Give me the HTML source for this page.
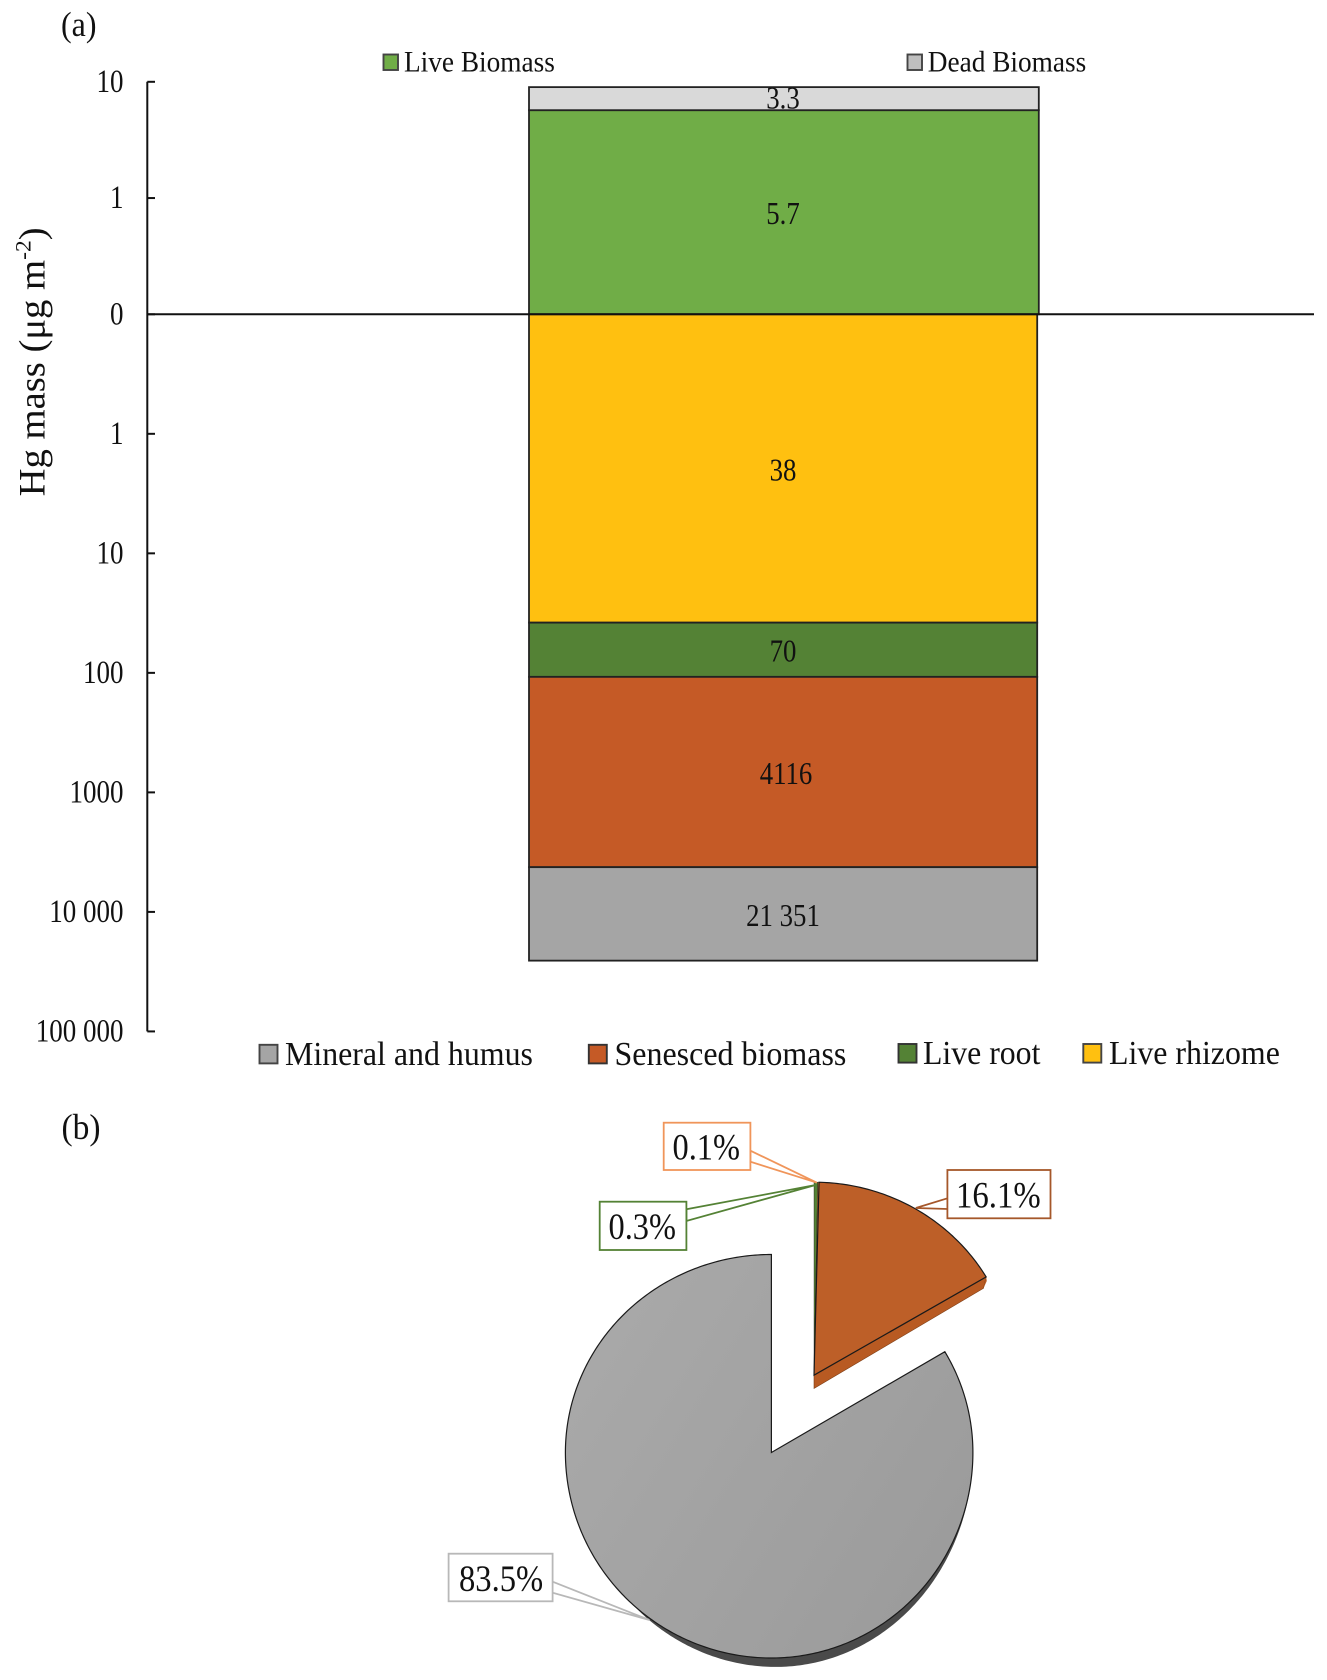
<!DOCTYPE html>
<html lang="en">
<head>
<meta charset="utf-8">
<title>Hg mass chart</title>
<style>
html,body{margin:0;padding:0;background:#fff;}
svg{display:block;filter:blur(0.35px);}
text{font-family:"Liberation Serif","Times New Roman",serif;fill:#111;}
</style>
</head>
<body>
<svg id="chart" xmlns="http://www.w3.org/2000/svg" width="1327" height="1680" viewBox="0 0 1327 1680">
  <defs>
    <linearGradient id="grayGrad" x1="0" y1="0.2" x2="1" y2="0.8">
      <stop offset="0" stop-color="#a9a9a9"/>
      <stop offset="1" stop-color="#9b9b9b"/>
    </linearGradient>
  </defs>
  <rect x="0" y="0" width="1327" height="1680" fill="#ffffff"/>

  <text transform="translate(61,36) scale(1,1.08)" font-size="32">(a)</text>
  <text transform="translate(61.5,1139) scale(1,1.08)" font-size="33.5">(b)</text>

  <text transform="translate(44.6,496.4) rotate(-90) scale(1.045,1)" font-size="37">Hg mass (μg m<tspan font-size="22.5" dy="-14">-2</tspan><tspan dy="14">)</tspan></text>

  <g id="bars"></g>
  <g id="axis"></g>

  <g>
    <g>
      <rect x="383.5" y="54.5" width="14.5" height="15.5" fill="#70ad47" stroke="#444" stroke-width="1.9"/>
      <text transform="translate(404,71.4) scale(1,1.09)" font-size="27.3">Live Biomass</text>
    </g>
    <g>
      <rect x="907.5" y="54.5" width="14.5" height="15.5" fill="#bfbfbf" stroke="#444" stroke-width="1.9"/>
      <text transform="translate(927.8,71.4) scale(1,1.09)" font-size="27.3">Dead Biomass</text>
    </g>
  </g>

  <g>
    <g>
      <rect x="259.5" y="1044.8" width="18" height="18.6" fill="#a5a5a5" stroke="#444" stroke-width="1.9"/>
      <text transform="translate(285,1065) scale(1,1.05)" font-size="31.9">Mineral and humus</text>
    </g>
    <g>
      <rect x="588.8" y="1044.8" width="18" height="18.6" fill="#c55a26" stroke="#333" stroke-width="1.9"/>
      <text transform="translate(614.5,1065) scale(1,1.05)" font-size="32">Senesced biomass</text>
    </g>
    <g>
      <rect x="898.5" y="1044" width="18" height="18.6" fill="#548235" stroke="#333" stroke-width="1.9"/>
      <text transform="translate(923,1064) scale(1,1.05)" font-size="31.8">Live root</text>
    </g>
    <g>
      <rect x="1083.3" y="1044" width="18" height="18.6" fill="#ffc010" stroke="#444" stroke-width="1.9"/>
      <text transform="translate(1109,1064) scale(1,1.05)" font-size="31.9">Live rhizome</text>
    </g>
  </g>

  <g id="pie"></g>

  <g id="pie-labels">
    <g>
      <polygon points="750.4,1150.7 816.9,1182.7 750.4,1161.7" fill="#fff" stroke="#f0955a" stroke-width="1.8"/>
      <rect x="663.7" y="1122.7" width="86.7" height="47.3" fill="#fff" stroke="#f0955a" stroke-width="1.8"/>
      <text id="pl-1" transform="translate(672.5,1159.5) scale(1,1.14)" font-size="32.4"></text>
    </g>
    <g>
      <polygon points="686.4,1209.3 815.6,1185 686.4,1221" fill="#fff" stroke="#548235" stroke-width="1.8"/>
      <rect x="599.7" y="1201.7" width="86.7" height="48.3" fill="#fff" stroke="#548235" stroke-width="1.8"/>
      <text id="pl-0" transform="translate(608.5,1239) scale(1,1.14)" font-size="32.4"></text>
    </g>
    <g>
      <polygon points="947.4,1198.3 915.8,1208 947.4,1209" fill="#fff" stroke="#a5572a" stroke-width="1.8"/>
      <rect x="947.4" y="1170" width="103.1" height="48.3" fill="#fff" stroke="#a5572a" stroke-width="1.8"/>
      <text id="pl-2" transform="translate(956,1207.5) scale(1,1.14)" font-size="32.8"></text>
    </g>
    <g>
      <polygon points="552.6,1581.7 649.4,1620 552.6,1592.7" fill="#fff" stroke="#b8b8b8" stroke-width="1.8"/>
      <rect x="448.6" y="1553.7" width="104" height="47.6" fill="#fff" stroke="#b8b8b8" stroke-width="1.8"/>
      <text id="pl-3" transform="translate(459,1591) scale(1,1.14)" font-size="32.6"></text>
    </g>
  </g>
</svg>

<script>
// ---- stacked bar data ----
const aboveCategories = ["Live biomass", "Dead biomass"];
const aboveValues = [5.7, 3.3];
const aboveLabels = ["5.7", "3.3"];
const belowCategories = ["Live rhizome", "Live root", "Senesced biomass", "Mineral and humus"];
const belowValues = [38, 70, 4116, 21351];
const belowLabels = ["38", "70", "4116", "21 351"];
const upperTickValues = [0, 1, 10];
const upperTickLabels = ["0", "1", "10"];
const lowerTickValues = [1, 10, 100, 1000, 10000, 100000];
const lowerTickLabels = ["1", "10", "100", "1000", "10 000", "100 000"];

// ---- pie data ----
const pieCategories = ["Live root", "Live rhizome", "Senesced biomass", "Mineral and humus"];
const pieValues = [0.3, 0.1, 16.1, 83.5];
const pieExploded = [true, true, true, false];
const pieLabels = ["0.3%", "0.1%", "16.1%", "83.5%"];

const SVGNS = "http://www.w3.org/2000/svg";
function mk(tag, parent, attrs) {
  const el = document.createElementNS(SVGNS, tag);
  for (const k in attrs) el.setAttribute(k, attrs[k]);
  parent.appendChild(el);
  return el;
}
function slug(s) { return s.toLowerCase().replace(/[^a-z0-9]+/g, "-"); }

// ---- axis functions: 0 at baseline, 1 one step away, then log decades ----
const ZERO_Y = 314.3, UP_STEP = 116.25, DOWN_STEP = 119.52;
function decades(v) { return v <= 0 ? 0 : (v >= 1 ? 1 + Math.log10(v) : v); }
function yUp(v) { return ZERO_Y - UP_STEP * decades(v); }
function yDown(v) { return ZERO_Y + DOWN_STEP * decades(v); }

const AXIS_X = 147.3, BAR_L = 529, BAR_R_UP = 1038.8, BAR_R_DOWN = 1037.2, ZERO_R = 1314;
const aboveColors = ["#70ad47", "#d9d9d9"];
const belowColors = ["#ffc010", "#548235", "#c55a26", "#a5a5a5"];
const belowLabelDx = [0, 0, 3, 0];

const barsG = document.getElementById("bars");
const axisG = document.getElementById("axis");

function barLabel(x, y, text) {
  const t = mk("text", barsG, { transform: "translate(" + x + "," + y + ") scale(1,1.17)", "font-size": 26.8, "text-anchor": "middle" });
  t.textContent = text;
  return t;
}

let cumUp = 0;
aboveValues.forEach(function (v, i) {
  const y0 = yUp(cumUp);
  cumUp += v;
  const y1 = yUp(cumUp);
  const r = mk("rect", barsG, { x: BAR_L, y: y1, width: BAR_R_UP - BAR_L, height: y0 - y1, fill: aboveColors[i], stroke: "#222", "stroke-width": 1.8 });
  
  
});
cumUp = 0;
aboveValues.forEach(function (v, i) {
  const y0 = yUp(cumUp);
  cumUp += v;
  const y1 = yUp(cumUp);
  const labelY = (y0 + y1) / 2 + (i === 0 ? 12 : 10);
  const t = barLabel(783, labelY, aboveLabels[i]);
  
  
});

let cumDown = 0;
belowValues.forEach(function (v, i) {
  const y0 = yDown(cumDown);
  cumDown += v;
  const y1 = yDown(cumDown);
  const r = mk("rect", barsG, { x: BAR_L, y: y0, width: BAR_R_DOWN - BAR_L, height: y1 - y0, fill: belowColors[i], stroke: "#222", "stroke-width": 1.8 });
  
  
});
cumDown = 0;
belowValues.forEach(function (v, i) {
  const y0 = yDown(cumDown);
  cumDown += v;
  const y1 = yDown(cumDown);
  const t = barLabel(783 + belowLabelDx[i], (y0 + y1) / 2 + 12, belowLabels[i]);
  
  
});

// axis line
const axisLine = mk("line", axisG, { x1: AXIS_X, x2: AXIS_X, y1: yUp(upperTickValues[upperTickValues.length - 1]), y2: yDown(lowerTickValues[lowerTickValues.length - 1]), stroke: "#111", "stroke-width": 2 });



const zeroLine = mk("line", axisG, { x1: AXIS_X, x2: ZERO_R, y1: ZERO_Y, y2: ZERO_Y, stroke: "#111", "stroke-width": 2 });



function tick(y, label, nameSuffix) {
  const l = mk("line", axisG, { x1: AXIS_X, x2: 155, y1: y, y2: y, stroke: "#111", "stroke-width": 2 });
  
  
  const t = mk("text", axisG, { transform: "translate(123.5," + (y + 10) + ") scale(1,1.2)", "font-size": 27, "text-anchor": "end" });
  t.textContent = label;
  
  
}
upperTickValues.forEach(function (v, i) { tick(yUp(v), upperTickLabels[i], "up-" + slug(upperTickLabels[i])); });
lowerTickValues.forEach(function (v, i) { tick(yDown(v), lowerTickLabels[i], "down-" + slug(lowerTickLabels[i])); });

// ---- pie ----
const pieG = document.getElementById("pie");
const PIE_CX = 771.4, PIE_CY = 1452.5;
const total = pieValues.reduce(function (a, b) { return a + b; }, 0);
const pieColors = ["#548235", "#ed7d31", "#bd5f28", "url(#grayGrad)"];
const pieSideColors = ["#3f6327", "#b85a1e", "#b85a22", "#4a4a4a"];

const angles = [];
let angleAcc = 0;
pieValues.forEach(function (v) {
  const a0 = angleAcc;
  angleAcc += v / total * 360;
  angles.push([a0, angleAcc]);
});
// explosion direction from the middle of the exploded group
let exMin = 360, exMax = 0;
angles.forEach(function (a, i) {
  if (pieExploded[i]) { exMin = Math.min(exMin, a[0]); exMax = Math.max(exMax, a[1]); }
});
const exMid = (exMin + exMax) / 2 * Math.PI / 180;
const exApex = [PIE_CX + 86 * Math.sin(exMid), PIE_CY - 89 * Math.cos(exMid)];

function rimPoint(apex, deg, rxR, rxL, ryTop, ryBottom) {
  const t = deg * Math.PI / 180;
  const c = Math.cos(t), s = Math.sin(t);
  return [apex[0] + (s > 0 ? rxR : rxL) * s, apex[1] - (c > 0 ? ryTop : ryBottom) * c];
}
function fmt(p) { return p[0].toFixed(2) + "," + p[1].toFixed(2); }

function sweepPoints(a0, a1, fn) {
  const pts = [];
  const steps = Math.max(2, Math.ceil((a1 - a0) / 0.75));
  for (let s = 0; s <= steps; s++) pts.push(fn(a0 + (a1 - a0) * s / steps));
  return pts;
}

angles.forEach(function (a, i) {
  const exploded = pieExploded[i];
  const apex = exploded ? exApex : [PIE_CX, PIE_CY];
  const rxR = exploded ? 200 : 201.5;
  const rxL = exploded ? 200 : 206;
  const ryT = exploded ? 193 : 198;
  const ryB = exploded ? 193 : 205.5;
  const rim = function (d) { return rimPoint(apex, d, rxR, rxL, ryT, ryB); };

  // 3D side: the exposed wall
  if (exploded) {
    const tip = rim(a[1]);
    const isLarge = pieValues[i] > 1;
    if (isLarge) {
      const side = mk("polygon", pieG, {
        points: [fmt(apex), fmt(tip), fmt([tip[0] - 2.7, tip[1] + 11.4]), fmt([apex[0], apex[1] + 13.3])].join(" "),
        fill: pieSideColors[i], stroke: "#7a3d16", "stroke-width": 0.6
      });
      
      
      const capBit = mk("polygon", pieG, {
        points: [fmt(tip), fmt([tip[0] + 0.6, tip[1] + 4]), fmt([tip[0] - 2.7, tip[1] + 11.4])].join(" "),
        fill: pieSideColors[i]
      });
      
      
    }
  } else {
    const dStart = Math.max(a[0], 95), dEnd = 222;
    const outer = sweepPoints(dStart, dEnd, function (d) {
      const u = (d - dStart) / (dEnd - dStart);
      const depth = 9.5 * Math.pow(Math.sin(Math.PI * Math.pow(u, 1.15)), 0.8);
      const p = rim(d);
      return [p[0], p[1] + depth];
    });
    const inner = sweepPoints(dStart, dEnd, rim).reverse();
    const crescent = mk("polygon", pieG, { points: outer.concat(inner).map(fmt).join(" "), fill: pieSideColors[i] });
    
    
  }

  const rimPts = sweepPoints(a[0], a[1], rim);
  const slice = mk("polygon", pieG, {
    points: [fmt(apex)].concat(rimPts.map(fmt)).join(" "),
    fill: pieColors[i], stroke: "#1a1a1a", "stroke-width": exploded && pieValues[i] < 1 ? 0.4 : 1.2, "stroke-linejoin": "miter"
  });
  
  
});

pieLabels.forEach(function (txt, i) {
  document.getElementById("pl-" + i).textContent = txt;
});
</script>
</body>
</html>
